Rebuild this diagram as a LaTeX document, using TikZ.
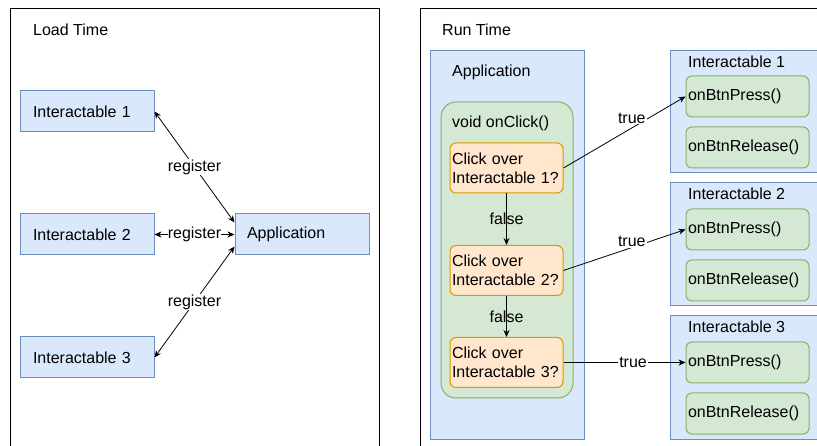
\documentclass[tikz,border=0pt]{standalone}
\usepackage{fontspec}
\setmainfont{Liberation Sans}
\usepackage{tikz}
\usetikzlibrary{arrows.meta}
\definecolor{bluefill}{HTML}{DAE8FC}
\definecolor{blueline}{HTML}{6C8EBF}
\definecolor{greenfill}{HTML}{D5E8D4}
\definecolor{greenline}{HTML}{82B366}
\definecolor{orangefill}{HTML}{FFE6CC}
\definecolor{orangeline}{HTML}{D79B00}

\begin{document}
\begin{tikzpicture}[x=1pt,y=-1pt,font=\fontsize{16}{19}\selectfont,
  blubox/.style={draw=blueline,fill=bluefill,line width=1pt,inner xsep=13pt,text width=108pt,minimum height=41pt,align=left},
  box/.style={draw=blueline,fill=bluefill,line width=1pt},
  grnbtn/.style={draw=greenline,fill=greenfill,line width=1pt,rounded corners=6pt,inner xsep=2pt,text width=119pt,minimum height=41pt,align=left},
  orgbox/.style={draw=orangeline,fill=orangefill,line width=1pt,rounded corners=6pt,inner xsep=2pt,text width=109pt,minimum height=50pt,align=left},
  title/.style={anchor=west,inner sep=0pt},
  arr/.style={{Stealth[length=7pt,width=6pt]}-{Stealth[length=7pt,width=6pt]},line width=0.8pt},
  tarr/.style={-{Stealth[length=7pt,width=6pt]},line width=0.8pt},
  lbl/.style={fill=white,inner sep=1pt}]
\useasboundingbox (0,0) rectangle (817,446);

% load time
\draw[line width=1pt] (10,460) |- (379,9) -- (379,460);
\node[title] (lt) at (33,30) {Load Time};
\node[blubox] (i1) at (87,111.5) {Interactable 1};
\node[blubox] (i2) at (87,234.5) {Interactable 2};
\node[blubox] (i3) at (87,357.5) {Interactable 3};
\node[blubox,inner xsep=12pt,text width=110pt] (app) at (302,234.5) {Application};
\draw[arr] (i1.east) -- node[lbl]{register} ([yshift=12pt]app.west);
\draw[arr] (i2) -- node[lbl,inner sep=0pt]{register} (app);
\draw[arr] (i3.east) -- node[lbl]{register} ([yshift=-12pt]app.west);

% run time
\draw[line width=1pt] (420,460) |- (830,9);
\node[title] (rt) at (442,30) {Run Time};
\node[box,minimum width=154pt,minimum height=388pt] (appc) at (507,245) {};
\node[title] (appt) at (452,72) {Application};
\node[draw=greenline,fill=greenfill,line width=1pt,rounded corners=15pt,minimum width=132pt,minimum height=296pt] (onc) at (507,250) {};
\node[title] (onct) at (452,123) {void onClick()};
\node[orgbox] (q1) at (506.5,168) {Click over\\Interactable 1?};
\node[orgbox] (q2) at (506.5,270.5) {Click over\\Interactable 2?};
\node[orgbox] (q3) at (506.5,362.5) {Click over\\Interactable 3?};
\draw[tarr] (q1) -- node{false} (q2);
\draw[tarr] (q2) -- node{false} (q3);

\node[box,minimum width=157pt,minimum height=122pt] (c1) at (748.5,112) {};
\node[title] (c1t) at (688,62) {Interactable 1};
\node[grnbtn] (p1) at (747.5,96.5) {onBtnPress()};
\node[grnbtn] (r1) at (747.5,147.5) {onBtnRelease()};

\node[box,minimum width=157pt,minimum height=123pt] (c2) at (748.5,244.5) {};
\node[title] (c2t) at (688,194) {Interactable 2};
\node[grnbtn] (p2) at (747.5,229.5) {onBtnPress()};
\node[grnbtn] (r2) at (747.5,280.5) {onBtnRelease()};

\node[box,minimum width=157pt,minimum height=123pt] (c3) at (748.5,377.5) {};
\node[title] (c3t) at (688,327) {Interactable 3};
\node[grnbtn] (p3) at (747.5,362.5) {onBtnPress()};
\node[grnbtn] (r3) at (747.5,413.5) {onBtnRelease()};

\draw[tarr] (q1.east) -- node[lbl,pos=0.56,yshift=10pt]{true} (p1.west);
\draw[tarr] (q2.east) -- node[lbl,pos=0.56,yshift=6pt]{true} (p2.west);
\draw[tarr] (q3.east) -- node[lbl,pos=0.57]{true} (p3.west);
\end{tikzpicture}
\end{document}
